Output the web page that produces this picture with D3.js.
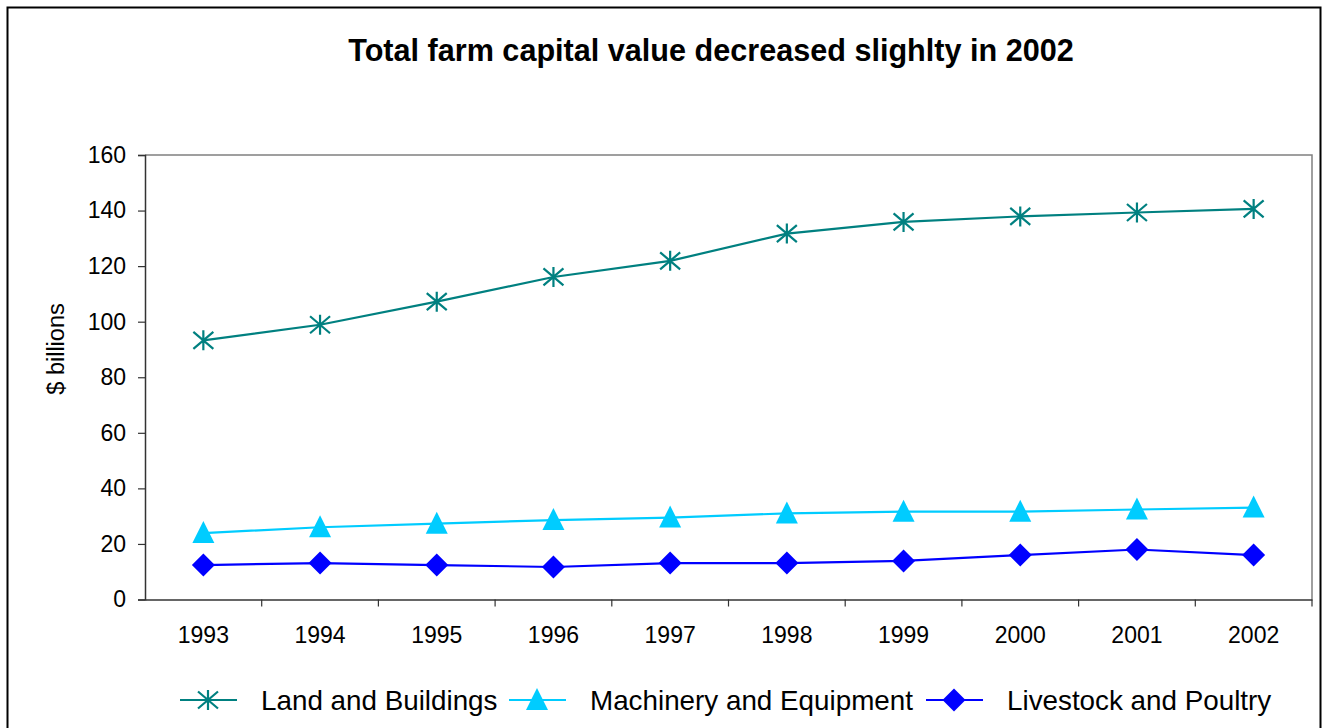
<!DOCTYPE html>
<html>
<head>
<meta charset="utf-8">
<script src="https://cdn.jsdelivr.net/npm/d3@7"></script>
<style>
  body { margin: 0; background: #fff; }
  text { font-family: "Liberation Sans", Arial, sans-serif; }
</style>
</head>
<body>
<svg id="chart" width="1326" height="728"></svg>
<script>
// data
const years = ["1993", "1994", "1995", "1996", "1997", "1998", "1999", "2000", "2001", "2002"];
const landBuildings = [93.3, 98.9, 107.2, 116.1, 121.9, 131.7, 135.9, 137.9, 139.3, 140.6];
const machinery = [23.9, 26.0, 27.3, 28.6, 29.5, 31.0, 31.6, 31.6, 32.4, 33.1];
const livestock = [12.4, 13.1, 12.4, 11.7, 13.1, 13.1, 13.9, 16.0, 18.0, 16.0];
const yTicks = [0, 20, 40, 60, 80, 100, 120, 140, 160];

const series = [
  { name: "Land and Buildings", values: landBuildings, color: "#008080", marker: "star" },
  { name: "Machinery and Equipment", values: machinery, color: "#00CCFF", marker: "triangle" },
  { name: "Livestock and Poultry", values: livestock, color: "#0000FF", marker: "diamond" }
];

const svg = d3.select("#chart");
const plot = { left: 145, right: 1312, top: 155, bottom: 599.5 };

// outer frame
svg.append("rect")
  .attr("x", 7.5).attr("y", 7.5)
  .attr("width", 1313).attr("height", 740)
  .attr("fill", "none").attr("stroke", "#000").attr("stroke-width", 2);

svg.append("text")
  .attr("x", 711).attr("y", 61)
  .attr("text-anchor", "middle")
  .attr("font-size", 30.6).attr("font-weight", "bold")
  .text("Total farm capital value decreased slighlty in 2002");

const x = d3.scaleBand().domain(years).range([plot.left, plot.right]).padding(0);
const y = d3.scaleLinear().domain([0, 160]).range([plot.bottom, plot.top]);

// plot border (top/right grey)
svg.append("path")
  .attr("d", `M${plot.left},${plot.top}H${plot.right}V${plot.bottom}`)
  .attr("fill", "none").attr("stroke", "#808080").attr("stroke-width", 1.5);

// y axis
const yAxis = svg.append("g")
  .attr("transform", `translate(${plot.left},0)`)
  .call(d3.axisLeft(y).tickValues(yTicks).tickSize(7).tickPadding(12));
yAxis.select(".domain").attr("stroke", "#333").attr("stroke-width", 1.5);
yAxis.selectAll(".tick line").attr("stroke", "#333").attr("stroke-width", 1.2);
yAxis.selectAll(".tick text").attr("font-size", 23).attr("fill", "#000")
  .attr("font-family", "Liberation Sans, Arial, sans-serif");

// x axis: labels centred, ticks on category boundaries
const xAxis = svg.append("g")
  .attr("transform", `translate(0,${plot.bottom})`)
  .call(d3.axisBottom(x).tickSize(0).tickPadding(27));
xAxis.select(".domain").attr("stroke", "#333").attr("stroke-width", 1.5);
xAxis.selectAll(".tick text").attr("font-size", 23).attr("fill", "#000")
  .attr("font-family", "Liberation Sans, Arial, sans-serif");
xAxis.selectAll(".boundary")
  .data(years.slice(1).concat(["end"]))
  .join("line")
  .attr("x1", (d, i) => x(years[0]) + x.step() * (i + 1))
  .attr("x2", (d, i) => x(years[0]) + x.step() * (i + 1))
  .attr("y1", 0).attr("y2", 7)
  .attr("stroke", "#333").attr("stroke-width", 1.2);

svg.append("text")
  .attr("transform", `translate(64,349) rotate(-90)`)
  .attr("text-anchor", "middle")
  .attr("font-size", 23.5)
  .text("$ billions");

function drawMarker(g, type, color) {
  if (type === "star") {
    const r = 10;
    g.append("path")
      .attr("d", `M0,${-r}V${r}M${-r},${-r * 0.85}L${r},${r * 0.85}M${-r},${r * 0.85}L${r},${-r * 0.85}`)
      .attr("stroke", color).attr("stroke-width", 2.2).attr("fill", "none");
  } else if (type === "triangle") {
    g.append("path")
      .attr("d", "M0,-12L11,10L-11,10Z")
      .attr("fill", color);
  } else {
    g.append("path")
      .attr("d", "M0,-11.5L11.5,0L0,11.5L-11.5,0Z")
      .attr("fill", color);
  }
}

const line = d3.line()
  .x((d, i) => x(years[i]) + x.bandwidth() / 2)
  .y(d => y(d));

series.forEach(s => {
  svg.append("path")
    .datum(s.values)
    .attr("d", line)
    .attr("fill", "none")
    .attr("stroke", s.color)
    .attr("stroke-width", 2.2);
  s.values.forEach((v, i) => {
    const g = svg.append("g")
      .attr("transform", `translate(${x(years[i]) + x.bandwidth() / 2},${y(v)})`);
    drawMarker(g, s.marker, s.color);
  });
});

// legend
const legendX = [180, 509, 926];
const legend = svg.append("g").attr("transform", "translate(0,700)");
series.forEach((s, i) => {
  const g = legend.append("g").attr("transform", `translate(${legendX[i]},0)`);
  g.append("line").attr("x1", 0).attr("x2", 57).attr("y1", 0).attr("y2", 0)
    .attr("stroke", s.color).attr("stroke-width", 2.2);
  const m = g.append("g").attr("transform", "translate(28,0)");
  drawMarker(m, s.marker, s.color);
  g.append("text")
    .attr("x", 81).attr("y", 10)
    .attr("font-size", 27.8)
    .text(s.name);
});
</script>
</body>
</html>
